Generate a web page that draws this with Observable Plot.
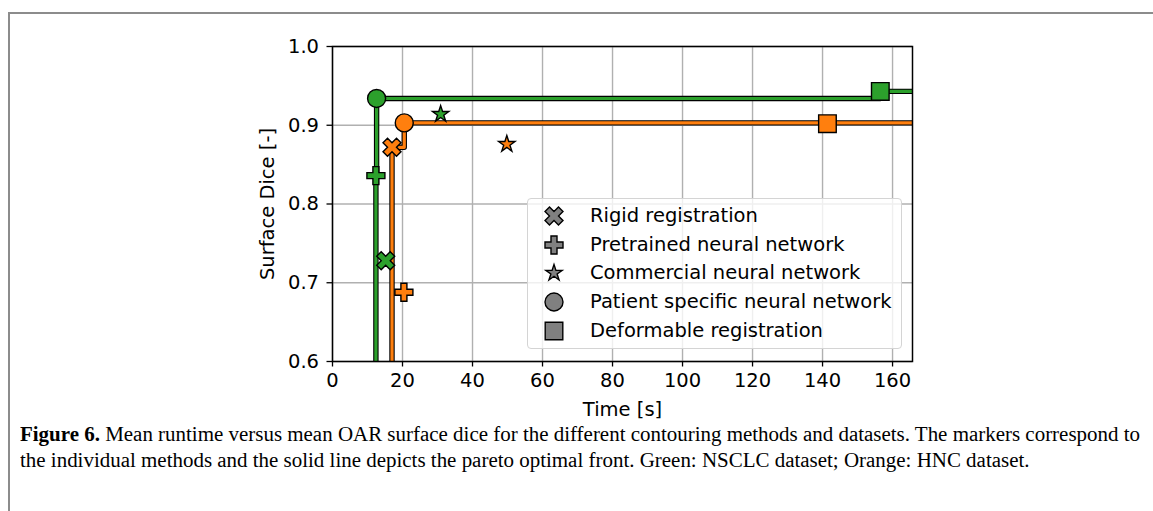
<!DOCTYPE html>
<html><head><meta charset="utf-8">
<script src="https://cdn.jsdelivr.net/npm/d3@7"></script>
<script src="https://cdn.jsdelivr.net/npm/@observablehq/plot@0.6"></script>
<style>
body{margin:0;width:1153px;height:511px;overflow:hidden;background:#fff;position:relative;font-family:"DejaVu Sans",sans-serif;}
#frame{position:absolute;left:8px;top:12px;width:1300px;height:700px;border-left:2px solid #8c8c8c;border-top:2px solid #8c8c8c;}
#chart{position:absolute;left:0;top:0;}
#legend{position:absolute;left:527px;top:198px;width:373px;height:149px;border:1px solid #d4d4d4;border-radius:4px;background:rgba(255,255,255,0.8);font-size:19.5px;color:#000;}
.row{position:absolute;left:0;height:28px;}
.row svg{position:absolute;left:14px;top:0;}
.row span{position:absolute;left:62px;white-space:nowrap;line-height:28px;}
#caption{position:absolute;left:20px;top:422px;font-family:"Liberation Serif",serif;font-size:20.5px;line-height:25.5px;color:#000;}
#caption div{white-space:nowrap;transform-origin:0 0;display:inline-block;}
</style></head>
<body>
<div id="frame"></div>
<div id="chart"></div>
<div id="legend"></div>
<div id="caption"><div id="cap1"><b>Figure 6.</b> Mean runtime versus mean OAR surface dice for the different contouring methods and datasets. The markers correspond to</div><br><div id="cap2">the individual methods and the solid line depicts the pareto optimal front. Green: NSCLC dataset; Orange: HNC dataset.</div></div>
<script>
// ---- data ----
const methods = ["Rigid registration","Pretrained neural network","Commercial neural network","Patient specific neural network","Deformable registration"];
const nsclcTime = [15.2, 12.4, 30.9, 12.6, 156.5];
const nsclcDice = [0.728, 0.836, 0.914, 0.934, 0.943];
const hncTime = [17.0, 20.4, 49.8, 20.5, 141.4];
const hncDice = [0.872, 0.688, 0.876, 0.903, 0.902];
const xTicks = [0,20,40,60,80,100,120,140,160];
const yTicks = [0.6,0.7,0.8,0.9,1.0];
const datasets = ["NSCLC","HNC"];
const colors = {NSCLC:"#2ca02c", HNC:"#ff7f0e"};

// ---- symbols (size = pi r^2) ----
const rad = s => Math.sqrt(s/Math.PI);
function plusPts(r){const a=r/3;return [[-a,-r],[a,-r],[a,-a],[r,-a],[r,a],[a,a],[a,r],[-a,r],[-a,a],[-r,a],[-r,-a],[-a,-a]];}
function poly(ctx,pts){ctx.moveTo(pts[0][0],pts[0][1]);for(let i=1;i<pts.length;i++)ctx.lineTo(pts[i][0],pts[i][1]);ctx.closePath();}
const symPlus = {draw(ctx,s){poly(ctx,plusPts(rad(s)));}};
const symX = {draw(ctx,s){const r=rad(s);const L=r*3*Math.SQRT2/4;const c=Math.SQRT1_2;poly(ctx,plusPts(L).map(([x,y])=>[c*(x-y),c*(x+y)]));}};
const symStar = {draw(ctx,s){const R=rad(s),ri=R*0.381966;const p=[];for(let i=0;i<10;i++){const rr=i%2?ri:R;const a=-Math.PI/2+i*Math.PI/5;p.push([rr*Math.cos(a),rr*Math.sin(a)]);}poly(ctx,p);}};
const symCircle = {draw(ctx,s){const r=rad(s);ctx.moveTo(r,0);ctx.arc(0,0,r,0,2*Math.PI);}};
const symSquare = {draw(ctx,s){const r=rad(s);ctx.rect(-r,-r,2*r,2*r);}};
const methodSymbols = [symX, symPlus, symStar, symCircle, symSquare];
const methodSizes = [9, 9, 8.6, 9, 8.8];

// ---- records ----
const rows = [];
datasets.forEach(ds=>{
  const T = ds==="NSCLC"?nsclcTime:hncTime, D = ds==="NSCLC"?nsclcDice:hncDice;
  methods.forEach((m,i)=>rows.push({dataset:ds, method:m, mi:i, time:T[i], dice:D[i]}));
});
function front(ds){
  const pts = rows.filter(d=>d.dataset===ds).slice().sort((a,b)=>a.time-b.time||b.dice-a.dice);
  const out=[]; let best=-Infinity;
  for(const p of pts){ if(p.dice>best){out.push({time:p.time,dice:p.dice});best=p.dice;} }
  return [{time:out[0].time,dice:0.5}, ...out, {time:1000,dice:best}].map(d=>({...d,dataset:ds}));
}

const marks = [
  Plot.gridX(xTicks,{stroke:"#b0b0b0",strokeOpacity:1,strokeWidth:1.4}),
  Plot.gridY(yTicks,{stroke:"#b0b0b0",strokeOpacity:1,strokeWidth:1.4}),
];
datasets.forEach(ds=>{
  const f = front(ds);
  marks.push(Plot.line(f,{x:"time",y:"dice",curve:"step-after",stroke:"black",strokeWidth:5.4,clip:true}));
  marks.push(Plot.line(f,{x:"time",y:"dice",curve:"step-after",stroke:colors[ds],strokeWidth:3.2,clip:true}));
});
datasets.forEach(ds=>{
  methods.forEach((m,i)=>{
    marks.push(Plot.dot(rows.filter(d=>d.dataset===ds&&d.mi===i),{x:"time",y:"dice",symbol:methodSymbols[i],r:methodSizes[i],fill:colors[ds],stroke:"black",strokeWidth:1.4}));
  });
});
marks.push(Plot.frame({stroke:"black",strokeWidth:1.5}));
marks.push(Plot.axisX(xTicks,{tickSize:5.5,tickPadding:6.5,strokeWidth:1.3,fontSize:19.5,label:"Time [s]",labelAnchor:"center",labelArrow:"none",labelOffset:54}));
marks.push(Plot.axisY(yTicks,{tickSize:5.5,tickPadding:8,strokeWidth:1.3,fontSize:19.5,tickFormat:d3.format(".1f"),label:"Surface Dice [-]",labelAnchor:"center",labelArrow:"none",labelOffset:72}));

const chart = Plot.plot({
  width:1153, height:420,
  marginLeft:332, marginRight:241, marginTop:46, marginBottom:59,
  x:{domain:[0,165.7]},
  y:{domain:[0.6,1.0]},
  style:{fontFamily:"DejaVu Sans",fontSize:"19.5px",color:"black",background:"transparent"},
  marks
});
document.getElementById("chart").appendChild(chart);

// ---- legend ----
const leg = document.getElementById("legend");
methods.forEach((m,i)=>{
  const row=document.createElement("div");row.className="row";row.style.top=(3+i*28.7)+"px";
  const s=d3.create("svg").attr("width",24).attr("height",28);
  s.append("path").attr("transform","translate(12,14)").attr("d",d3.symbol(methodSymbols[i],Math.PI*methodSizes[i]**2)()).attr("fill","#808080").attr("stroke","black").attr("stroke-width",1.4);
  row.appendChild(s.node());
  const t=document.createElement("span");t.textContent=m;row.appendChild(t);
  leg.appendChild(row);
});

// ---- caption width ----
const c1=document.getElementById("cap1"),c2=document.getElementById("cap2");
const w=c1.getBoundingClientRect().width; const k=1120/w;
c1.style.transform=`scaleX(${k})`; c2.style.transform=`scaleX(${k})`;
</script>
</body></html>
